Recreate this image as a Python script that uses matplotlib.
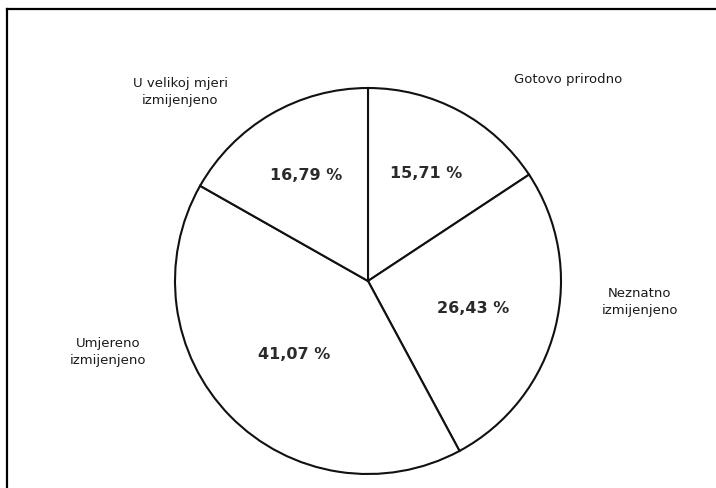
import matplotlib.pyplot as plt
from matplotlib.lines import Line2D
import numpy as np

categories = ['Gotovo prirodno', 'Neznatno\nizmijenjeno',
              'Umjereno\nizmijenjeno', 'U velikoj mjeri\nizmijenjeno']
shares = [15.71, 26.43, 41.07, 16.79]

# layout (radius units), not data
label_pos = [(1.036, 1.047), (1.409, -0.104), (-1.347, -0.363), (-0.974, 0.984)]
pct_dist = [0.64, 0.56, 0.535, 0.64]

fig = plt.figure(figsize=(7.16, 4.89), dpi=100)
ax = fig.add_axes([0, 0, 1, 1])

wedges, texts, autotexts = ax.pie(
    shares, labels=categories, startangle=90, counterclock=False,
    colors=['white'] * len(shares),
    wedgeprops=dict(edgecolor='#111111', linewidth=1.5),
    autopct=lambda p: f'{p:.2f} %'.replace('.', ','),
    textprops=dict(family='DejaVu Sans'))

for w, t, d in zip(wedges, autotexts, pct_dist):
    ang = np.deg2rad((w.theta1 + w.theta2) / 2)
    t.set_position((d * np.cos(ang), d * np.sin(ang)))
    t.set_fontsize(11.5)
    t.set_fontweight('bold')
    t.set_color('#2a2a2a')
    t.set_ha('center')
    t.set_va('center')

for t, (x, y) in zip(texts, label_pos):
    t.set_position((x, y))
    t.set_ha('center')
    t.set_va('center')
    t.set_fontsize(9.5)
    t.set_color('#1a1a1a')
    t.set_multialignment('center')
    t.set_linespacing(1.45)

ax.set_xlim(-368 / 193, (716 - 368) / 193)
ax.set_ylim(-(489 - 282) / 193, 282 / 193)
ax.set_aspect('auto')
ax.axis('off')

# frame lines of the original picture
top = 1 - 10 / 489
left = 7 / 716
fig.add_artist(Line2D([left, 1], [top, top], color='black', linewidth=1.6))
fig.add_artist(Line2D([left, left], [top, 0], color='black', linewidth=1.6))

fig.savefig('out.png', dpi=100)
